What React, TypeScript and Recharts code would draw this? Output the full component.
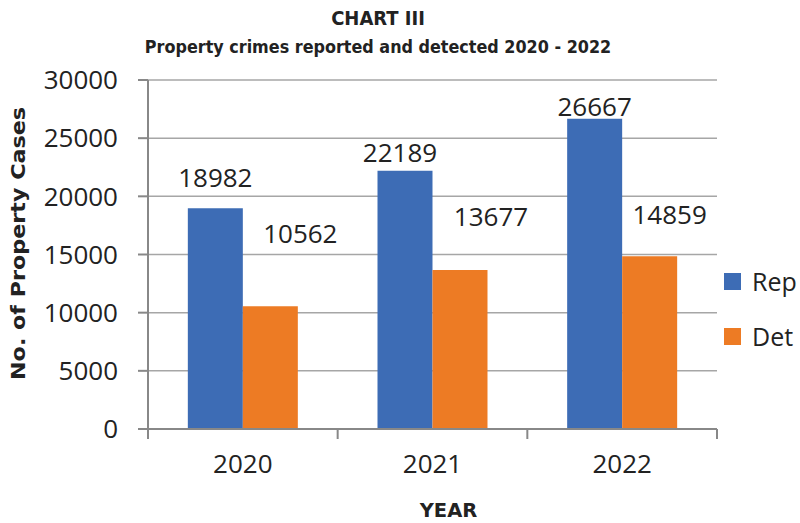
import { BarChart, Bar, XAxis, YAxis, CartesianGrid, Legend, LabelList, Label } from 'recharts';

const years = ['2020', '2021', '2022'];
const reported = [18982, 22189, 26667];
const detected = [10562, 13677, 14859];
const yTicks = [0, 5000, 10000, 15000, 20000, 25000, 30000];
const seriesNames = ['Rep', 'Det'];

const data = years.map((year, i) => ({ year, Rep: reported[i], Det: detected[i] }));

const BLUE = '#3D6CB5';
const ORANGE = '#ED7B24';
const TEXT = '#222222';
const NUM_FONT = '"Open Sans", "Noto Sans", sans-serif';
const BOLD_FONT = '"DejaVu Sans", Verdana, sans-serif';
const TITLE_FONT = '"DejaVu Sans Condensed", "DejaVu Sans", sans-serif';

const W = 800;
const H = 523;
const M = { top: 80, right: 83, bottom: 0, left: 0 };
const Y_AXIS_W = 148;
const X_AXIS_H = 94;
const BAND = (W - M.right - Y_AXIS_W) / years.length;

// hand-placed value labels, like the original: [dx, gap above bar top]
const REP_SHIFT = [[0, 31], [-5, 18], [0, 12]];
const DET_SHIFT = [[30, 72], [31, 53], [20, 42]];

const valueLabel = (shift: number[][]) => (props: any) => {
  const { x, y, width, value, index } = props;
  const [dx, dy] = shift[index] || [0, 10];
  return (
    <text
      x={Number(x) + Number(width) / 2 + dx}
      y={Number(y) - dy}
      dy="0.36em"
      textAnchor="middle"
      fontSize={26}
      fontFamily={NUM_FONT}
      fill={TEXT}
    >
      {value}
    </text>
  );
};

const YearTick = (props: any) => {
  const { x, y, payload, index } = props;
  const axisY = y - 26;
  const last = index === years.length - 1;
  return (
    <g>
      <line x1={x - BAND / 2} x2={x - BAND / 2} y1={axisY} y2={axisY + 10} stroke="#888" strokeWidth={2} />
      {last && <line x1={x + BAND / 2} x2={x + BAND / 2} y1={axisY} y2={axisY + 10} stroke="#888" strokeWidth={2} />}
      <text x={x} y={y} dy="0.71em" textAnchor="middle" fontSize={26} fontFamily={NUM_FONT} fill={TEXT}>
        {payload.value}
      </text>
    </g>
  );
};

const LegendBox = (props: any) => {
  const { payload = [] } = props;
  const items = [...payload].sort(
    (a: any, b: any) => seriesNames.indexOf(a.value) - seriesNames.indexOf(b.value)
  );
  return (
    <div>
      {items.map((p: any, i: number) => (
        <div key={`leg-${i}`} style={{ display: 'flex', alignItems: 'center', height: 17, marginBottom: 38 }}>
          <span style={{ width: 17, height: 17, backgroundColor: p.color, display: 'inline-block' }} />
          <span style={{ marginLeft: 11, fontSize: 25, lineHeight: '17px', fontFamily: NUM_FONT, color: TEXT }}>
            {p.value}
          </span>
        </div>
      ))}
    </div>
  );
};

const titleStyle = {
  position: 'absolute' as const,
  left: 0,
  width: 756,
  textAlign: 'center' as const,
  fontFamily: TITLE_FONT,
  fontStretch: 'condensed',
  fontWeight: 'bold' as const,
  color: TEXT,
};

export default function App() {
  return (
    <div style={{ position: 'absolute', left: 0, top: 0, width: W, height: H, background: '#fff' }}>
      <div style={{ ...titleStyle, top: 7, fontSize: 20, lineHeight: '22px' }}>CHART III</div>
      <div style={{ ...titleStyle, top: 36, fontSize: 17.8, lineHeight: '22px' }}>
        Property crimes reported and detected 2020 - 2022
      </div>
      <BarChart width={W} height={H} data={data} margin={M} barGap={0} barCategoryGap="21%">
        <CartesianGrid vertical={false} stroke="#A6A6A6" strokeWidth={1.5} />
        <XAxis
          dataKey="year"
          height={X_AXIS_H}
          axisLine={{ stroke: '#888', strokeWidth: 2 }}
          tickLine={false}
          tickSize={10}
          tickMargin={16}
          tick={<YearTick />}
          interval={0}
        >
          <Label
            content={(p: any) => {
              const vb = p.viewBox || { x: 148, y: 429, width: 569 };
              return (
                <text
                  x={vb.x + vb.width / 2 + 16}
                  y={vb.y + 81}
                  dy="0.36em"
                  textAnchor="middle"
                  fontSize={19.5}
                  fontWeight="bold"
                  fontFamily={BOLD_FONT}
                  fill={TEXT}
                >
                  YEAR
                </text>
              );
            }}
          />
        </XAxis>
        <YAxis
          width={Y_AXIS_W}
          domain={[0, 30000]}
          ticks={yTicks}
          interval={0}
          axisLine={{ stroke: '#888', strokeWidth: 2 }}
          tickLine={{ stroke: '#888', strokeWidth: 2 }}
          tickSize={10}
          tickMargin={20}
          tick={{ fontSize: 26, fontFamily: NUM_FONT, fill: TEXT }}
        >
          <Label
            content={(p: any) => {
              const vb = p.viewBox || { x: 0, y: 80, height: 349 };
              const cy = vb.y + vb.height / 2 - 11;
              return (
                <text
                  x={18}
                  y={cy}
                  transform={`rotate(-90, 18, ${cy})`}
                  dy="0.36em"
                  textAnchor="middle"
                  fontSize={19}
                  fontWeight="bold"
                  fontFamily={BOLD_FONT}
                  fill={TEXT}
                  textLength={273}
                  lengthAdjust="spacingAndGlyphs"
                >
                  No. of Property Cases
                </text>
              );
            }}
          />
        </YAxis>
        <Legend
          layout="vertical"
          align="center"
          verticalAlign="middle"
          wrapperStyle={{ left: 724, top: 273, width: 76 }}
          content={<LegendBox />}
        />
        <Bar dataKey="Rep" name="Rep" fill={BLUE} isAnimationActive={false}>
          <LabelList dataKey="Rep" content={valueLabel(REP_SHIFT)} />
        </Bar>
        <Bar dataKey="Det" name="Det" fill={ORANGE} isAnimationActive={false}>
          <LabelList dataKey="Det" content={valueLabel(DET_SHIFT)} />
        </Bar>
      </BarChart>
    </div>
  );
}
